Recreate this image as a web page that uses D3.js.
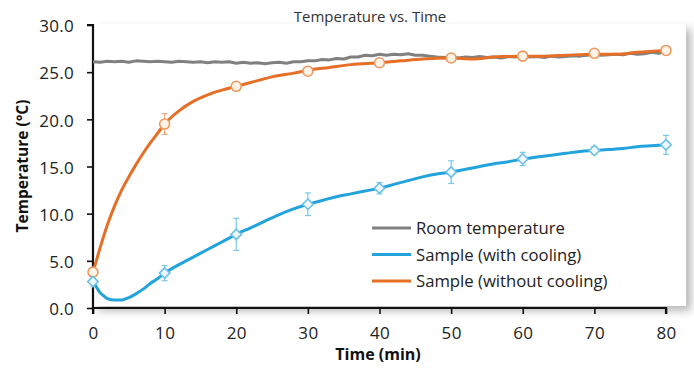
<!DOCTYPE html>
<html><head><meta charset="utf-8">
<script src="https://cdn.jsdelivr.net/npm/d3@7/dist/d3.min.js"></script>
<style>body{margin:0;background:#fff;}svg{display:block;font-family:"Open Sans",sans-serif;}</style>
</head><body><svg id="c" width="694" height="369"></svg>
<script>
const title = "Temperature vs. Time";
const xTicks = [0,10,20,30,40,50,60,70,80];
const yTicks = [0,5,10,15,20,25,30];
const seriesNames = ["Room temperature","Sample (with cooling)","Sample (without cooling)"];
const seriesColors = ["#808080","#22a3dc","#e66f27"];

// Room temperature, one reading per minute
const roomTemp = [26.1,26.05,26.15,26.1,26.15,26.05,26.2,26.15,26.1,26.15,
26.1,26.05,26.15,26.1,26.05,26.1,26.0,26.1,26.05,26.1,
25.95,26.05,25.95,26.0,25.9,26.0,26.05,25.95,26.1,26.1,
26.2,26.2,26.35,26.3,26.45,26.4,26.6,26.6,26.8,26.75,
26.9,26.8,26.9,26.85,26.95,26.8,26.8,26.7,26.6,26.55,
26.6,26.5,26.6,26.55,26.65,26.55,26.6,26.5,26.65,26.6,
26.7,26.6,26.65,26.55,26.7,26.6,26.65,26.75,26.7,26.8,
26.9,26.8,26.85,26.9,26.85,27.0,26.9,26.95,27.1,27.0,27.2];

const noCoolT = [0,0.5,1,2,3,4,5,6,7,8,9,10,12,14,16,18,20,22,25,28,30,33,36,40,43,46,50,53,56,60,63,66,70,73,76,80];
const noCoolV = [3.8,5.1,6.4,8.8,10.8,12.5,13.9,15.2,16.4,17.5,18.5,19.5,20.9,21.9,22.6,23.1,23.5,23.9,24.5,24.9,25.2,25.5,25.8,26.0,26.2,26.4,26.5,26.4,26.6,26.7,26.7,26.8,26.9,26.9,27.1,27.3];

const coolT = [0,0.5,1,1.5,2,3,4,5,6,7,8,9,10,12,14,16,18,20,22,24,26,28,30,32,34,36,38,40,42,44,46,48,50,52,54,56,58,60,62,64,66,68,70,72,74,76,78,80];
const coolV = [2.8,2.2,1.6,1.3,1.0,0.85,0.85,1.1,1.5,2.0,2.6,3.1,3.7,4.6,5.4,6.2,7.0,7.8,8.5,9.2,9.9,10.5,11.0,11.4,11.8,12.1,12.4,12.7,13.1,13.5,13.9,14.2,14.4,14.7,15.0,15.3,15.5,15.8,16.0,16.2,16.4,16.6,16.7,16.8,16.9,17.1,17.2,17.3];

const markerT = [0,10,20,30,40,50,60,70,80];
const noCoolMean = [3.8,19.5,23.5,25.1,26.0,26.5,26.7,27.0,27.3];
const noCoolErr  = [0.3,1.1,0.3,0.3,0.2,0.2,0.2,0.2,0.2];
const coolMean = [2.8,3.7,7.8,11.0,12.7,14.4,15.8,16.7,17.3];
const coolErr  = [0.3,0.8,1.7,1.2,0.6,1.2,0.7,0.4,1.0];

const svg = d3.select("#c");
const m = {l:93, r:666, t:25, b:308};
const x = d3.scaleLinear().domain([0,80]).range([m.l,m.r]);
const y = d3.scaleLinear().domain([0,30]).range([m.b,m.t]);

const defs = svg.append("defs");
const f = defs.append("filter").attr("id","sh").attr("x","-10%").attr("y","-10%").attr("width","130%").attr("height","130%");
f.append("feDropShadow").attr("dx",5).attr("dy",5).attr("stdDeviation",4).attr("flood-color","#000").attr("flood-opacity",0.28);

svg.append("rect").attr("x",m.l).attr("y",m.t-1).attr("width",686-m.l).attr("height",m.b-m.t-1)
  .attr("fill","#fff").attr("filter","url(#sh)");

svg.append("text").attr("x",370).attr("y",22).attr("text-anchor","middle")
  .attr("font-size",15).attr("fill","#333").text(title);

// axes
const yAxis = d3.axisLeft(y).tickValues(yTicks).tickFormat(d3.format(".1f")).tickSize(6).tickPadding(13);
const gy = svg.append("g").attr("transform",`translate(${m.l},0)`).call(yAxis);
const xAxis = d3.axisBottom(x).tickValues(xTicks).tickSize(6).tickPadding(13);
const gx = svg.append("g").attr("transform",`translate(0,${m.b})`).call(xAxis);
[gx,gy].forEach(g=>{
  g.select(".domain").attr("stroke","#111").attr("stroke-width",2.2);
  g.selectAll(".tick line").attr("stroke","#111").attr("stroke-width",1.6);
  g.selectAll(".tick text").attr("font-size",17).attr("letter-spacing","0.3px").attr("fill","#222").attr("font-family","Open Sans");
});
gy.selectAll(".tick text").attr("dy","0.4em");
gy.select(".domain").attr("d",`M-6,${m.t}H0V${m.b}`);
gx.select(".domain").attr("d",`M${m.l},6V0H${m.r}V6`);

svg.append("text").attr("x",378).attr("y",360).attr("text-anchor","middle")
  .attr("font-size",16).attr("font-weight","bold").attr("fill","#111").text("Time (min)");
svg.append("text").attr("transform","translate(28,166) rotate(-90)").attr("text-anchor","middle")
  .attr("font-size",15.5).attr("font-weight","bold").attr("fill","#111").text("Temperature (°C)");

// lines
const line = d3.line().x(d=>x(d[0])).y(d=>y(d[1]));
const roomData = roomTemp.map((v,i)=>[i,v]);
svg.append("path").datum(roomData).attr("d",line).attr("fill","none")
  .attr("stroke",seriesColors[0]).attr("stroke-width",3).attr("stroke-linejoin","round");

const lineS = d3.line().x(d=>x(d[0])).y(d=>y(d[1])).curve(d3.curveMonotoneX);
const noCool = noCoolT.map((t,i)=>[t,noCoolV[i]]);
const cool = coolT.map((t,i)=>[t,coolV[i]]);

function errBars(mean, err, col){
  const g = svg.append("g").attr("stroke",col).attr("stroke-width",1.2).attr("opacity",0.6);
  markerT.forEach((t,i)=>{
    const cx = x(t), y1 = y(mean[i]-err[i]), y2 = y(mean[i]+err[i]);
    g.append("line").attr("x1",cx).attr("x2",cx).attr("y1",y1).attr("y2",y2);
    g.append("line").attr("x1",cx-3).attr("x2",cx+3).attr("y1",y1).attr("y2",y1);
    g.append("line").attr("x1",cx-3).attr("x2",cx+3).attr("y1",y2).attr("y2",y2);
  });
}

svg.append("path").datum(noCool).attr("d",lineS).attr("fill","none")
  .attr("stroke",seriesColors[2]).attr("stroke-width",3).attr("stroke-linejoin","round");
svg.append("path").datum(cool).attr("d",lineS).attr("fill","none")
  .attr("stroke",seriesColors[1]).attr("stroke-width",3).attr("stroke-linejoin","round");

errBars(noCoolMean, noCoolErr, seriesColors[2]);
errBars(coolMean, coolErr, seriesColors[1]);

svg.append("g").selectAll("circle").data(markerT).join("circle")
  .attr("cx",d=>x(d)).attr("cy",(d,i)=>y(noCoolMean[i])).attr("r",5)
  .attr("fill","#fff3e8").attr("stroke","#eb9a5e").attr("stroke-width",1.6);
const diamond = d3.symbol().type(d3.symbolDiamond2).size(70);
svg.append("g").selectAll("path").data(markerT).join("path")
  .attr("transform",(d,i)=>`translate(${x(d)},${y(coolMean[i])})`)
  .attr("d",diamond).attr("fill","#eef8fd").attr("stroke","#6cc0ea").attr("stroke-width",1.6);

// legend
const lg = svg.append("g");
seriesNames.forEach((n,i)=>{
  const yy = 228 + i*26.5;
  lg.append("line").attr("x1",372).attr("x2",411).attr("y1",yy).attr("y2",yy)
    .attr("stroke",seriesColors[i]).attr("stroke-width",3);
  lg.append("text").attr("x",416).attr("y",yy+6).attr("font-size",16.7).attr("fill","#222").text(n);
});
</script></body></html>
